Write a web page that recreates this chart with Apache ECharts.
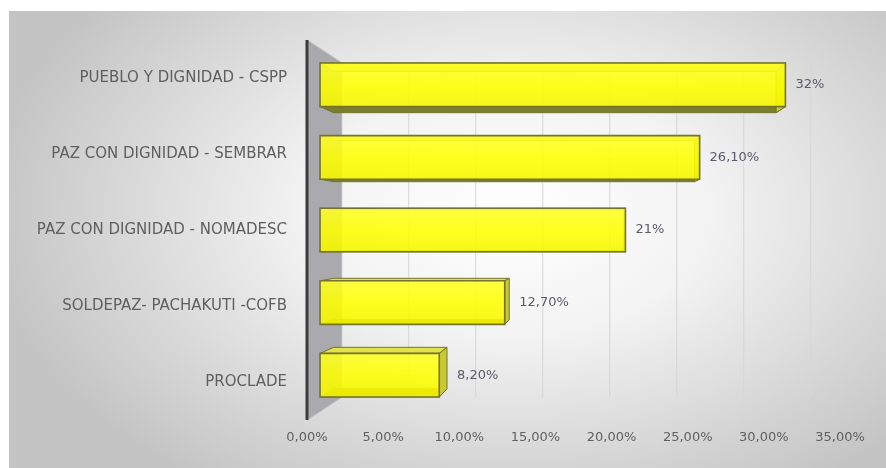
<!DOCTYPE html>
<html>
<head>
<meta charset="utf-8">
<script src="https://cdn.jsdelivr.net/npm/echarts@6/dist/echarts.min.js"></script>
<style>
  html, body { margin: 0; padding: 0; background: #ffffff; }
  #bg { position: absolute; left: 9px; top: 11px; width: 877px; height: 457px;
        background: radial-gradient(ellipse 60% 72% at 57% 44%, #ffffff 0%, #f3f3f3 38%, #c4c4c4 100%); }
  #chart { position: absolute; left: 0; top: 0; width: 886px; height: 468px; }
</style>
</head>
<body>
<div id="bg"></div>
<div id="chart"></div>
<script>
// ---- data ----
const categories = [
  'PUEBLO Y DIGNIDAD - CSPP',
  'PAZ CON DIGNIDAD - SEMBRAR',
  'PAZ CON DIGNIDAD - NOMADESC',
  'SOLDEPAZ- PACHAKUTI -COFB',
  'PROCLADE'
];
const values = [0.32, 0.261, 0.21, 0.127, 0.082];
const valueLabels = ['32%', '26,10%', '21%', '12,70%', '8,20%'];
const xTicks = [0, 0.05, 0.10, 0.15, 0.20, 0.25, 0.30, 0.35];

// ---- perspective helpers (front plane = grid) ----
const VX = 0.19;          // vanishing point x (axis value)
const D_FRONT = 0.045;    // depth of bar front face
const D_BACK = 0.092;     // depth of bar back face
const D_WALL = 0.12;      // depth of back wall
function proj(p, k, V) { return [p[0] + k * (V[0] - p[0]), p[1] + k * (V[1] - p[1])]; }
function vanish(api) { return api.coord([VX, (categories.length - 1) / 2]); }

const font = '"DejaVu Sans", "Open Sans", sans-serif';
const chart = echarts.init(document.getElementById('chart'));

chart.setOption({
  backgroundColor: 'transparent',
  animation: false,
  grid: { left: 307, right: 46, top: 40, bottom: 48 },
  xAxis: {
    type: 'value', min: 0, max: 0.35, interval: 0.05,
    axisLine: { show: false }, axisTick: { show: false }, splitLine: { show: false },
    axisLabel: {
      margin: 11, color: '#5f5f5f', fontSize: 13, fontFamily: font,
      formatter: v => (v * 100).toFixed(2).replace('.', ',') + '%'
    }
  },
  yAxis: {
    type: 'category', inverse: true, data: categories,
    axisLine: { show: false }, axisTick: { show: false }, splitLine: { show: false },
    axisLabel: { margin: 20, color: '#5f5f5f', fontSize: 15, fontFamily: font, padding: [4, 0, 0, 0] }
  },
  series: [
    {
      // back wall + gridlines
      type: 'custom',
      data: [[0, 0]],
      encode: { x: 0, y: 1 },
      z: 1,
      silent: true,
      renderItem: function (params, api) {
        const V = vanish(api);
        const band = api.size([0, 1])[1];
        const n = categories.length;
        const topY = api.coord([0, 0])[1] - band / 2;
        const botY = api.coord([0, n - 1])[1] + band / 2;
        const children = [];
        xTicks.forEach(t => {
          const x = api.coord([t, 0])[0];
          const a = proj([x, topY], D_WALL, V), b = proj([x, botY], D_WALL, V);
          if (t > 0) children.push({ type: 'line', shape: { x1: a[0], y1: a[1], x2: b[0], y2: b[1] },
            style: { stroke: '#d6d6d6', lineWidth: 1 } });
        });
        // floor right edge (faint)
        const xr = api.coord([xTicks[xTicks.length - 1], 0])[0];
        const fr = proj([xr, botY], D_WALL, V);
        children.push({ type: 'line', shape: { x1: xr, y1: botY, x2: fr[0], y2: fr[1] },
          style: { stroke: '#cfcfcf', lineWidth: 1 } });
        const x0 = api.coord([0, 0])[0];
        const ft = [x0, topY], fb = [x0, botY];
        const bt = proj(ft, D_WALL, V), bb = proj(fb, D_WALL, V);
        children.push({ type: 'polygon', shape: { points: [ft, bt, bb, fb] },
          style: { fill: '#a9a9ae', stroke: '#b8b8bc', lineWidth: 1 } });
        children.push({ type: 'line', shape: { x1: x0, y1: topY, x2: x0, y2: botY },
          style: { stroke: '#3c3c3c', lineWidth: 3 } });
        return { type: 'group', children: children };
      }
    },
    {
      type: 'custom',
      data: values.map((v, i) => [i, v]),
      encode: { x: 1, y: 0 },
      z: 3,
      renderItem: function (params, api) {
        const i = api.value(0), v = api.value(1);
        const V = vanish(api);
        const c0 = api.coord([0, i]), c1 = api.coord([v, i]);
        const band = api.size([0, 1])[1];
        const h = band * 0.3;
        const F = [[c0[0], c0[1] - h], [c1[0], c1[1] - h], [c1[0], c1[1] + h], [c0[0], c0[1] + h]];
        const f = F.map(p => proj(p, D_FRONT, V));
        const b = F.map(p => proj(p, D_BACK, V));
        const edge = '#74742c';
        const children = [
          { type: 'polygon', shape: { points: [f[3], f[2], b[2], b[3]] },
            style: { fill: '#7d7d2e', stroke: edge, lineWidth: 1 } },
          { type: 'polygon', shape: { points: [f[0], f[1], b[1], b[0]] },
            style: { fill: '#e2e24a', stroke: edge, lineWidth: 1 } },
          { type: 'polygon', shape: { points: [f[1], f[2], b[2], b[1]] },
            style: { fill: '#c9c936', stroke: edge, lineWidth: 1 } },
          { type: 'polygon', shape: { points: f },
            style: {
              fill: new echarts.graphic.LinearGradient(0, 0, 0, 1, [
                { offset: 0, color: 'rgba(255,255,40,0.88)' },
                { offset: 0.5, color: 'rgba(255,255,0,0.88)' },
                { offset: 1, color: 'rgba(245,245,0,0.9)' }
              ]),
              stroke: edge, lineWidth: 1.6 } },
          { type: 'text',
            style: { text: valueLabels[i], x: Math.max(f[1][0], b[1][0]) + 10, y: (f[1][1] + f[2][1]) / 2,
                     fill: '#5a5a6a', fontSize: 13, fontFamily: font, align: 'left', verticalAlign: 'middle' } }
        ];
        return { type: 'group', children: children };
      }
    }
  ]
});
</script>
</body>
</html>
